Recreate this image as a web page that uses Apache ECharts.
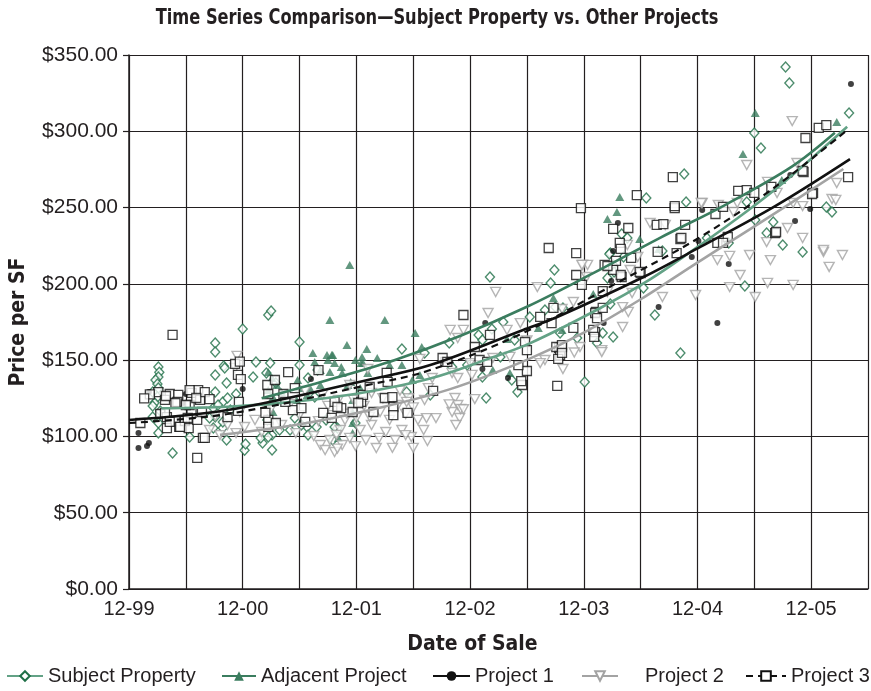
<!DOCTYPE html>
<html>
<head>
<meta charset="utf-8">
<script src="https://cdn.jsdelivr.net/npm/echarts@6/dist/echarts.min.js"></script>
<style>
  html, body { margin: 0; padding: 0; background: #fff; }
  #chart { width: 871px; height: 691px; }
</style>
</head>
<body>
<div id="chart"></div>
<script>
// x values are months after December 1999, y values are price per square foot.
const dateTicks = ['12-99', '12-00', '12-01', '12-02', '12-03', '12-04', '12-05'];

const subjectProperty = [
  [3.1,145.5],[3.2,142],[3.1,139],[2.8,137],[3.0,134.4],[3.1,131.7],[2.5,129.1],[3.0,125.8],[2.7,122],
  [2.5,119.9],[3.3,116.7],[2.5,112.7],[3.1,108.8],[3.1,102.2],[4.6,89.1],
  [6.4,99.6],[9.1,161.2],[9.1,155.3],[10.0,146.2],[9.1,140.3],[10.3,135.0],[9.1,129.1],[9.9,122.6],
  [8.9,118.6],[10.7,117.3],[9.1,112.7],[8.9,105.5],[9.9,105.5],[10.3,97.7],[12.0,170.4],[11.3,127.8],
  [13.1,139.0],[10.1,144.9],[8.5,112.1],[10.4,125.2],[9.4,120.6],[9.9,109.5],[12.2,91],[12.3,95],
  [14.7,179.6],[15.0,182.2],[14.9,148.1],[13.4,148.8],[14.5,141.6],[15.5,135.0],[14.6,110.8],[15.1,100.9],
  [14.1,95.7],[15.1,91.1],[15.9,104.2],[13.9,99.0],[14.7,99.6],[17.0,104.2],[17.5,112.1],[18.0,161.9],[18.0,146.8],
  [18.9,138.3],[19.9,143.5],[18.8,106.2],[19.8,106.2],[22.0,105.5],[21.5,97.7],[19.6,125.8],[18.2,107.5],
  [18.9,100.9],[20.8,110.8],[21.7,106.2],[23.9,108.8],[28.8,157.3],[31.2,154.7],[29.3,129.1],[31.8,127.2],
  [33.8,161.2],[34.1,145.5],[35.7,146.8],[36.9,166.5],[38.1,204.5],[38.3,170.4],[37.3,163.2],[37.3,139.0],
  [37.7,125.2],[39.5,175.0],[39.2,152.1],[40.7,163.2],[40.4,137.0],[41.0,129.1],[42.3,178.3],
  [43.9,182.9],[44.9,209.1],[44.5,200.6],[45.0,184.8],[45.8,184.2],[45.5,167.8],[47.3,164.5],[48.1,135.7],
  [49.4,161.2],[50.0,167.8],[51.1,165.2],[50.8,220.2],[51.1,212.4],[51.2,207.8],[50.8,186.8],[52.0,232.7],
  [52.6,230.1],[50.7,219.6],[52.2,217.6],[50.5,203.8],[54.3,197.3],[54.6,256.3],
  [58.6,272.0],[58.8,253.7],[56.3,221.5],[55.5,179.6],[58.2,154.7],[61.0,230.1],[63.3,226.8],[65.0,198.6],
  [65.2,253.7],[66.0,298.9],[66.7,289.0],[66.1,241.9],[67.3,233.3],
  [68.0,240.5],[69.0,225.5],[69.3,342.1],[69.7,331.7],[71.1,220.9],[73.6,250.4],[74.2,247.1],[76.0,312.0]
];

const adjacentProject = [
  [14.7,142.2],[15.1,138.3],[15.6,133.7],[14.7,130.4],[15.2,125.8],[14.6,120.6],[15.2,116.0],[16.1,129.1],
  [17.8,137.0],[18.0,131.7],[17.7,123.9],[18.8,127.2],[19.4,154.7],[20.9,153.4],[21.5,153.4],[21.2,142.2],
  [22.5,141.6],[23.1,133.7],[20.2,133.7],[19.6,148.8],[20.2,143.5],[21.0,150.1],[22.4,145.5],[23.9,150.1],
  [24.5,148.1],[25.2,141.6],[23.4,135.7],[24.4,131.7],[19.1,131.7],[23.3,212.4],[21.2,176.3],[22.1,99.0],
  [23.6,123.9],[23.6,116.0],[23.6,108.8],[23.6,102.2],
  [27.0,176.3],[30.2,167.8],[30.9,158.6],[23.0,159.9],[25.1,157.3],[21.4,153.4],[24.6,152.1],[26.2,151.4],
  [24.7,148.1],[21.7,148.1],[27.5,146.8],[28.8,146.8],[30.7,140.3],[29.9,137.0],[38.4,143.5],[40.2,141.6],
  [44.8,190.7],[43.2,171.1],[39.9,163.9],[45.7,169.8],[49.0,193.4],
  [51.8,256.9],[51.5,247.1],[50.5,242.5],[53.9,229.4],[55.9,222.9],[68.9,268.1],
  [66.1,312.0],[64.8,285.1],[74.7,306.1]
];

const project1 = [
  [1.0,92.4],[1.9,93.7],[2.1,95.7],[1.0,102.2],[2.1,129.1],[6.0,127.8],[5.7,121.9],[12.0,131.1],
  [19.2,137.6],[37.6,174.3],[37.3,144.2],[40.0,138.3],[50.1,174.3],[50.9,201.9],[51.1,221.5],[51.6,239.9],
  [55.9,184.8],[59.4,217.6],[60.1,228.1],[60.5,248.4],[62.1,174.3],[63.3,213.0],[69.8,271.4],[70.3,241.2],
  [71.9,249.1],[76.2,331.0]
];

const project2 = [
  [8.5,104.2],[9.6,100.9],[10.4,107.5],[11.3,102.2],[9.1,113.4],[11.7,116.0],[12.2,106.2],[13.3,110.8],
  [14.0,102.9],[14.9,117.3],[16.1,107.5],[17.0,121.3],[17.6,102.2],[18.0,114.0],[11.4,152.8],[11.2,144.9],
  [20.2,94.4],[20.7,91.1],[21.2,97.7],[21.7,89.8],[22.3,104.2],[22.5,94.4],[22.8,110.8],[21.5,114.0],
  [22.1,123.9],[20.4,127.2],[23.3,99.0],[23.9,93.7],[24.4,104.2],[25.0,97.7],[25.6,107.5],[26.1,92.4],
  [26.5,116.0],[27.1,102.9],[27.5,110.8],[28.1,97.7],[28.4,120.6],[28.8,104.2],[29.2,114.7],[29.8,99.6],
  [30.5,110.8],[31.1,104.2],[31.2,123.9],[31.6,131.7],[32.0,138.3],[30.7,150.8],[23.3,133.7],[25.2,144.2],
  [25.6,128.5],[18.6,129.8],[19.5,100.3],[20.0,110],[21.0,120],[22.0,92],[23.0,115],[24.0,112],[24.8,120],
  [26.8,125],[27.8,92.5],[29.5,125],[30.0,92.5],[31.5,97],[32.4,112],[26.4,99],[25.4,113],[28.6,130],
  [23.7,124],[21.9,101],
  [34.4,125.2],[34.7,120.6],[34.1,116.0],[34.9,112.1],[34.5,107.5],[35.0,118],[33.8,121],
  [37.9,180.9],[38.7,194.7],[33.9,169.8],[35.3,169.8],[34.7,164.5],[43.1,197.9],[41.3,174.3],[46.9,188.1],
  [47.9,212.4],[48.3,204.5],[45.7,183.5],[47.6,158.6],[49.9,156.6],[52.1,171.7],[52.7,181.6],[43.9,150.1],
  [40.2,152.1],[36.2,140.3],[34.1,141.6],[38.4,151.4],[39.9,169.8],[52.9,209.1],[50.5,194.7],[48.4,212.4],
  [42.0,163],[47.0,155],[43.4,148.1],[45.8,144.2],[34.7,138.3],[36.5,124.5],[35.3,117.8],[29.2,100.9],
  [31.4,112],[30.0,119],[29.3,122.6],[36.0,148.0],
  [65.2,277.9],[70.5,279.2],[67.4,266.8],[60.5,253.0],[64.2,253.0],[62.4,250.4],[55.0,239.9],[56.6,238.6],
  [69.5,236.6],[71.1,230.1],[67.3,227.4],[65.5,218.9],[67.7,215.6],[73.3,220.9],[75.3,218.9],[73.9,211.1],
  [63.4,218.3],[62.1,215.6],[64.5,205.8],[67.4,200.6],[70.1,199.3],[66.1,191.4],[63.4,197.9],[59.8,192.7],
  [56.3,191.4],[53.1,194.0],[52.1,184.8],[49.9,155.3],[47.8,212.4],[53.7,217.6],[52.6,225.5],[63.8,247.1],
  [74.7,266.1],[74.2,255.6],[71.1,251.0],[70.0,306.7],[68.4,259.6],[62.2,251.7],[60.4,253.0],[74.6,255.0],
  [70.1,253.0],[73.3,222.2]
];

const project3 = [
  [4.6,166.5],[3.1,129.1],[4.3,127.8],[5.2,127.2],[3.8,123.9],[5.1,122.6],[6.6,128.5],[7.3,130.4],[7.5,123.9],
  [8.0,129.1],[8.5,124.5],[3.3,114.7],[4.0,112.7],[4.9,110.1],[1.2,108.8],[4.0,105.5],[5.3,106.2],[5.9,110.1],
  [6.3,105.5],[7.2,110.8],[7.7,116.0],[6.6,115.4],[6.4,120.6],[7.2,85.9],[7.8,99.0],[3.9,126.5],[4.9,121.9],
  [3.8,115.4],[4.3,109.5],[5.4,106.2],[6.4,130.4],[7.1,125.2],[6.0,120.6],[6.2,112.1],[8.0,99.0],[10.4,112.7],
  [11.2,147.5],[11.5,140.3],[2.2,127.5],[1.6,125],
  [11.7,149],[11.8,137.6],[11.6,122.6],[11.5,116.7],[14.6,133.7],[16.3,127.8],[17.3,117.3],[14.7,110.8],
  [14.7,106.2],[20.0,143.5],
  [16.8,142.2],[15.4,137.0],[14.7,127.8],[14.4,115.4],[16.5,122.6],[17.5,131.7],[18.2,118.6],[15.5,108.8],
  [18.6,109.5],[20.5,115.4],[21.7,122.6],[22.4,118.6],[24.5,122.6],[23.6,116.0],[24.7,127.2],[24.2,121.9],
  [22.0,119.3],[27.9,119.3],[25.8,116.0],[27.9,114.0],[29.4,115.4],[21.4,112.1],[27.0,125.2],[27.8,125.8],
  [27.2,141.6],[27.3,135.7],[25.4,132.4],[32.1,129.8],[33.4,148.8],
  [35.3,179.6],[38.1,166.5],[36.5,158.6],[37.0,150.1],[37.8,148.8],[33.1,151.4],[33.6,148.8],[45.2,133.1],
  [41.5,133.7],[41.4,136.3],[42.0,142.9],[41.8,161.9],[42.0,156.6],[41.1,146.8],[43.4,178.3],[44.6,174.3],
  [44.8,184.2],[46.9,171.1],[45.4,158.0],[45.5,153.4],[45.3,150.8],[49.3,181.6],[49.2,168.4],[47.2,205.8],
  [47.8,199.3],[50.2,212.4],[52.0,204.5],[54.0,207.1],[50.0,195.3],[49.2,180.9],[50.0,184.2],[49.0,169.8],
  [49.1,165.2],[45.1,158.6],[45.7,158.6],[51.1,209.1],[47.2,220.2],[47.7,249.7],[44.3,223.5],[45.7,159.9],
  [45.7,154.7],[49.4,177.6],
  [57.4,270.0],[53.6,258.2],[57.6,249.7],[52.7,236.6],[51.1,236.0],[51.8,226.8],[51.9,222.9],[53.0,217.0],
  [51.4,215.0],[50.5,211.7],[51.9,205.8],[53.9,207.8],[55.8,220.9],[57.8,220.2],[58.7,238.6],[58.2,229.4],
  [62.1,226.8],[63.2,230.7],[64.3,260.9],[65.2,261.5],[66.0,259.6],[68.2,233.3],[71.2,273.3],[72.2,259.6],
  [75.9,270.0],[72.8,302.2],[73.6,304.1],[71.4,295.6],[71.1,274.0],[67.8,263.5],[72.1,258.9],[61.9,245.8],
  [62.7,250.4],[57.6,251.0],[55.7,238.6],[56.4,239.2],[58.3,230.1],[68.3,234.0],[62.7,226.8]
];

// Fitted trend curves, read at a handful of dates.
const subjectTrend = [[3.4,118.5],[10.4,119.5],[17,122.5],[24,128],[31.8,138],[38,151],[42.3,161],[49.7,184],[55,203],[59.5,222],[64,242],[69,266],[75.8,303]];
const adjacentTrend = [[14,125],[21,137],[28,150],[35,166],[42,185],[49,207],[56,230],[63,252],[70,277],[74.5,299]];
const project1Trend = [[0,110.8],[10.4,117.3],[25.2,137.0],[31.8,146.8],[41.6,169.8],[45.2,178.3],[54.3,204.5],[60.3,224.2],[68.2,251],[76.1,281.8]];
const project2Trend = [[9.6,101],[18,108],[25.2,117],[33.9,131],[42.3,151],[48,168],[54.3,191],[59.5,212],[66.6,240],[75.4,275.3]];
const project3Trend = [[0,108.8],[10.4,114.7],[25.2,133.7],[31.8,143.5],[41.6,167.8],[51.5,200.6],[60.3,230.7],[68.2,263.5],[75.8,300.8]];

const INK = '#231f20';
const DARK_GREEN = '#1f6f47';
const MID_GREEN = '#3b7d5f';
const LIGHT_GREEN = '#63a286';
const GREY = '#a3a3a3';
const BODY_FONT = "'Liberation Sans', Arial, sans-serif";
const NARROW_BOLD = "'Liberation Sans Narrow', 'DejaVu Sans Condensed', sans-serif";
const DOWN_TRIANGLE = 'path://M0,0L10,0L5,9Z';

const chart = echarts.init(document.getElementById('chart'), null, { renderer: 'canvas' });

function trendSeries(name, data, lineColor, lineType, symbol, itemStyle, width) {
  return {
    name: name, type: 'line', data: data, smooth: 0.35, showSymbol: false,
    symbol: symbol, z: 4, silent: true,
    lineStyle: { color: lineColor, width: width || 2.6, type: lineType },
    itemStyle: itemStyle
  };
}

function pointSeries(name, data, symbol, size, itemStyle) {
  return {
    name: name, type: 'scatter', data: data, symbol: symbol, symbolSize: size,
    itemStyle: itemStyle, z: 2, silent: true
  };
}

function legendAt(name, left, itemWidth, textPad) {
  return {
    data: [name], left: left, top: 666, padding: 0, selectedMode: false,
    itemWidth: itemWidth, itemHeight: 12,
    textStyle: { fontFamily: BODY_FONT, fontSize: 20, color: INK, padding: [0, 0, 0, textPad || 0] }
  };
}

const subjectStyle = { color: '#fff', borderColor: DARK_GREEN, borderWidth: 1.4 };
const adjacentStyle = { color: MID_GREEN };
const project1Style = { color: '#111' };
const project2Style = { color: '#fff', borderColor: GREY, borderWidth: 1.4 };
const project3Style = { color: '#fff', borderColor: '#111', borderWidth: 1.3 };

chart.setOption({
  animation: false,
  backgroundColor: '#fff',
  // Heading set in a condensed bold face, squeezed horizontally.
  graphic: [{
    type: 'text', x: 437, y: 8, scaleX: 0.86, silent: true,
    style: {
      text: 'Time Series Comparison\u2014Subject Property vs. Other Projects',
      font: "bold 21px 'DejaVu Sans Condensed', 'Liberation Sans', sans-serif",
      fill: INK, align: 'center', verticalAlign: 'top'
    }
  }],
  legend: [
    legendAt('Subject Property', 6, 36),
    legendAt('Adjacent Project', 221, 34),
    legendAt('Project 1', 432, 37),
    legendAt('Project 2', 581, 36, 22),
    legendAt('Project 3', 745, 40)
  ],
  grid: { left: 129, right: 3, top: 55, bottom: 102, containLabel: false },
  xAxis: {
    type: 'value', min: 0, max: 78, interval: 6,
    name: 'Date of Sale', nameLocation: 'middle', nameGap: 45,
    nameTextStyle: { fontFamily: NARROW_BOLD, fontWeight: 'bold', fontSize: 21, color: INK, padding: [0, 52, 0, 0] },
    axisLine: { show: true, onZero: false, lineStyle: { color: INK, width: 1.5 } },
    axisTick: { show: false },
    axisLabel: {
      fontFamily: BODY_FONT, fontSize: 20, color: INK, margin: 10,
      formatter: function (v) { return v % 12 === 0 ? dateTicks[v / 12] : ''; }
    },
    splitLine: { show: true, lineStyle: { color: INK, width: 1.2 } }
  },
  yAxis: {
    type: 'value', min: 0, max: 350, interval: 50,
    name: 'Price per SF', nameLocation: 'middle', nameGap: 100,
    nameTextStyle: { fontFamily: NARROW_BOLD, fontWeight: 'bold', fontSize: 21, color: INK },
    axisLine: { show: true, onZero: false, lineStyle: { color: INK, width: 1.5 } },
    axisTick: { show: true, inside: false, length: 6, lineStyle: { color: INK, width: 1.2 } },
    axisLabel: {
      fontFamily: BODY_FONT, fontSize: 21, color: INK, margin: 11,
      formatter: function (v) { return '$' + v.toFixed(2); }
    },
    splitLine: { show: true, lineStyle: { color: INK, width: 1.2 } }
  },
  series: [
    trendSeries('Subject Property', subjectTrend, LIGHT_GREEN, 'solid', 'diamond', subjectStyle),
    trendSeries('Adjacent Project', adjacentTrend, MID_GREEN, 'solid', 'triangle', adjacentStyle),
    trendSeries('Project 1', project1Trend, '#111', 'solid', 'circle', project1Style),
    trendSeries('Project 2', project2Trend, GREY, 'solid', DOWN_TRIANGLE, project2Style),
    trendSeries('Project 3', project3Trend, '#111', [7, 5], 'rect', project3Style, 2.2),
    pointSeries('Subject Property', subjectProperty, 'diamond', [9, 10], subjectStyle),
    pointSeries('Adjacent Project', adjacentProject, 'triangle', [9, 8], adjacentStyle),
    pointSeries('Project 1', project1, 'circle', 6, project1Style),
    pointSeries('Project 2', project2, DOWN_TRIANGLE, [10, 9], project2Style),
    pointSeries('Project 3', project3, 'rect', [9, 9], project3Style)
  ]
});
</script>
</body>
</html>
